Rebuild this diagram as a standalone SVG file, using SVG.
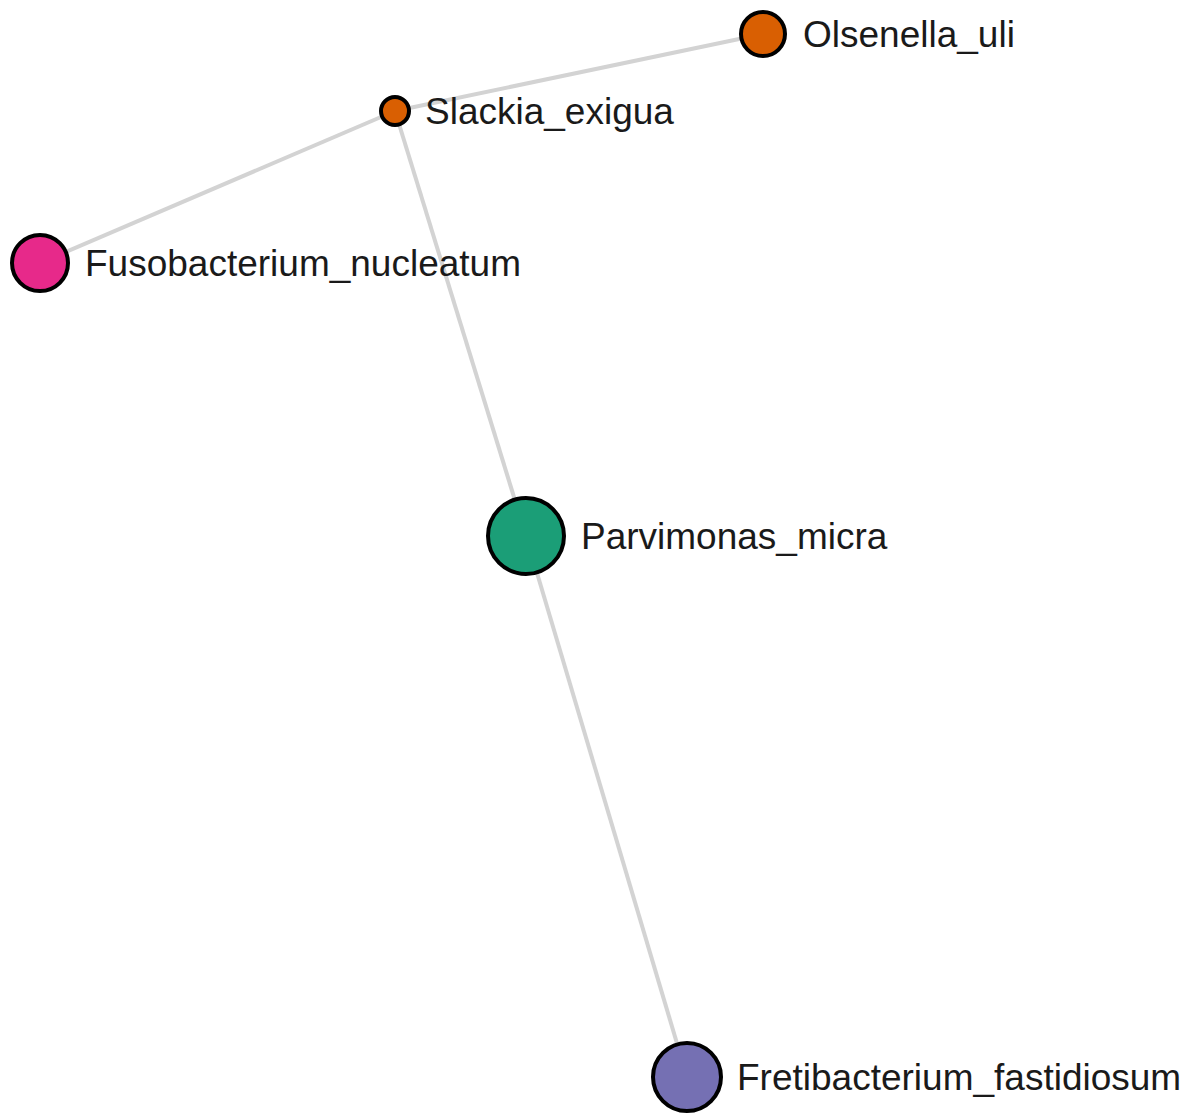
<svg xmlns="http://www.w3.org/2000/svg" width="1192" height="1114" viewBox="0 0 1192 1114">
<style>
.edge{stroke:#d3d3d3;stroke-width:4;fill:none}
.node circle{stroke:#000;stroke-width:4}
.node text{font-family:"Liberation Sans",Arial,sans-serif;font-size:37px;fill:#1a1a1a;dominant-baseline:central}
</style>
<rect width="1192" height="1114" fill="#fff"/>
<g id="edges">
<line class="edge" x1="395" y1="111" x2="763" y2="34"/>
<line class="edge" x1="395" y1="111" x2="40" y2="263"/>
<line class="edge" x1="395" y1="111" x2="526" y2="536"/>
<line class="edge" x1="526" y1="536" x2="687" y2="1077"/>
</g>
<g id="node-slackia" class="node">
<circle cx="395" cy="111" r="14" fill="#d95f02"/>
<text x="425" y="111">Slackia_exigua</text>
</g>
<g id="node-olsenella" class="node">
<circle cx="763" cy="34" r="22" fill="#d95f02"/>
<text x="803" y="34">Olsenella_uli</text>
</g>
<g id="node-fusobacterium" class="node">
<circle cx="40" cy="263" r="28" fill="#e7298a"/>
<text x="85" y="263">Fusobacterium_nucleatum</text>
</g>
<g id="node-parvimonas" class="node">
<circle cx="526" cy="536" r="38" fill="#1b9e77"/>
<text x="581" y="536">Parvimonas_micra</text>
</g>
<g id="node-fretibacterium" class="node">
<circle cx="687" cy="1077" r="34" fill="#7570b3"/>
<text x="737" y="1077">Fretibacterium_fastidiosum</text>
</g>
</svg>
